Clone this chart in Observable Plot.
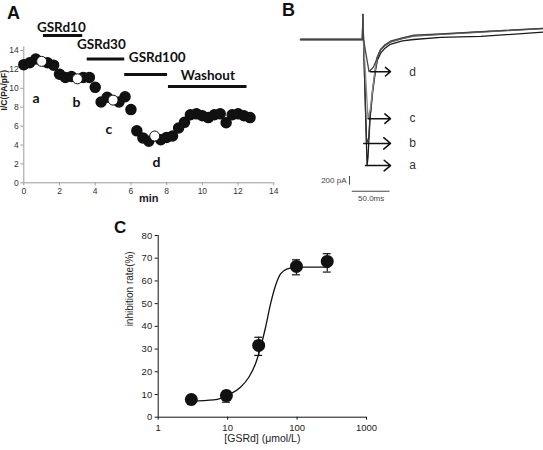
<!DOCTYPE html>
<html><head><meta charset="utf-8">
<script src="https://cdn.jsdelivr.net/npm/d3@7"></script>
<script src="https://cdn.jsdelivr.net/npm/@observablehq/plot@0.6"></script>
<style>
body{margin:0;background:#fff;}
#fig{position:relative;width:543px;height:450px;overflow:hidden;font-family:"Liberation Sans",Arial,sans-serif;background:#fff;}
#fig > .pane{position:absolute;}
.plabel{position:absolute;font-weight:bold;font-size:17px;font-family:"Liberation Sans",Arial,sans-serif;color:#111;line-height:1;}
</style></head><body><div id="fig"></div>
<script>
// ---------- Panel A: I/C over time ----------
const timeA = [0,0.33,0.67,1.0,1.33,1.67,2.0,2.33,2.67,3.0,3.33,3.67,4.0,4.33,4.67,5.0,5.33,5.67,6.0,6.33,6.67,7.0,7.33,7.67,8.0,8.33,8.67,9.0,9.33,9.67,10.0,10.33,10.67,11.0,11.33,11.67,12.0,12.33,12.67];
const currentA = [12.5,12.7,13.1,12.85,12.7,12.45,11.5,11.15,11.25,11.0,11.15,11.15,10.1,8.55,9.05,8.75,8.55,9.1,7.75,5.5,4.75,4.4,4.95,4.55,4.8,4.95,5.8,6.4,7.2,7.3,7.1,6.9,7.2,7.3,6.35,7.2,7.3,7.1,6.9];
const sampleIdx = [3, 9, 15, 22];            // open circles (traces a-d)
const xTicksA = [0,2,4,6,8,10,12,14];
const yTicksA = [0,2,4,6,8,10,12,14];
const drugNames = ["GSRd10","GSRd30","GSRd100","Washout"];
const drugStart = [1.1, 3.55, 5.65, 8.1];
const drugEnd   = [3.3, 5.65, 8.05, 12.5];
const sampleLetters = ["a","b","c","d"];

// ---------- Panel B: current traces (ms, pA) ----------
const traceNames = ["a","b","c","d"];
const traceT = [
  [0,82,82.7,83.5,88.2,89.5,92,95.5,99.5,102,106,112,119,135,150,186,239,322],
  [0,82,82.7,83.5,87.5,90.5,92,95.5,99.5,102,106,112,119,135,150,186,239,322],
  [0,82,82.7,83.5,89.5,92.5,95.5,99.5,102,106,112,119,135,150,186,239,322],
  [0,82,82.7,83.5,90.8,96.5,99.5,102,106,112,119,135,150,186,239,322]
];
const traceI = [
  [0,0,575,0,-2900,-2700,-1850,-1230,-700,-470,-320,-200,-110,-30,0,50,70,170],
  [0,0,575,0,-2390,-2250,-1790,-1170,-640,-410,-250,-140,-60,20,80,120,172,250],
  [0,0,575,0,-1820,-1600,-1150,-620,-400,-240,-130,-50,30,90,125,175,255],
  [0,0,575,0,-740,-640,-520,-390,-230,-120,-40,40,100,130,180,258]
];
const tracePeak = [-2900, -2390, -1820, -740];
const scaleBarPA = 200;
const scaleBarMS = 50;

// ---------- Panel C: concentration-response ----------
const concC = [3, 9.6, 28, 98, 272];
const inhibC = [7.8, 9.5, 31.6, 66.4, 68.6];
const errLowC = [5.6, 6.6, 27.2, 62.7, 63.9];
const errHighC = [9.6, 11.5, 35.2, 69.3, 72.0];
const fitConc = [3, 6.3, 11, 15.3, 20.2, 25.2, 29.8, 35.2, 41.5, 49, 57.8, 72.3, 100, 287];
const fitInhib = [7.1, 7.6, 10.3, 13.2, 17.6, 23.5, 30.8, 39.6, 49.9, 58.0, 63.1, 65.3, 66.1, 66.1];
const xTicksC = [1, 10, 100, 1000];
const yTicksC = [0,10,20,30,40,50,60,70,80];

const fig = document.getElementById("fig");
function place(el, left, top) {
  const d = document.createElement("div");
  d.className = "pane"; d.style.left = left + "px"; d.style.top = top + "px";
  d.appendChild(el); fig.appendChild(d);
}
function label(txt, left, top, size) {
  const d = document.createElement("div");
  d.className = "plabel"; d.textContent = txt;
  d.style.left = left + "px"; d.style.top = top + "px"; d.style.fontSize = size + "px";
  fig.appendChild(d);
}
const baseStyle = {fontFamily: "'Liberation Sans', Arial, sans-serif", background: "transparent", overflow: "visible", color: "#222"};

// ----- Panel A plot -----
const rowsA = timeA.map((t, i) => ({t, v: currentA[i], open: sampleIdx.includes(i)}));
const barLevel = [15.6, 13.1, 11.45, 10.2];
const barTextPos = [[2.1, 16.4], [4.34, 14.6], [7.47, 13.2], [10.31, 11.3]];
const drugRows = drugNames.map((n, i) => ({name: n, start: drugStart[i], end: drugEnd[i], level: barLevel[i], tx: barTextPos[i][0], ty: barTextPos[i][1]}));
const letterPos = [[0.69, 8.9], [2.95, 8.53], [4.76, 5.64], [7.43, 2.18]];
const letterRows = sampleLetters.map((l, i) => ({l, x: letterPos[i][0], y: letterPos[i][1]}));
const axisGray = "#9c9c9c";
const plotA = Plot.plot({
  width: 280, height: 210, marginLeft: 23.3, marginRight: 6.7, marginTop: 50, marginBottom: 27.7,
  style: baseStyle,
  x: {domain: [0, 14]}, y: {domain: [0, 14]},
  marks: [
    Plot.ruleY([0], {stroke: axisGray}),
    Plot.ruleX([0], {y1: 0, y2: 14.4, stroke: axisGray}),
    Plot.axisX({ticks: xTicksA, tickSize: 3, stroke: axisGray, fill: "#333", fontSize: 8.5, tickPadding: 2, label: null}),
    Plot.axisY({ticks: yTicksA, tickSize: 3, stroke: axisGray, fill: "#333", fontSize: 8.5, tickPadding: 2, label: null}),
    Plot.dot(rowsA.filter(d => !d.open), {x: "t", y: "v", r: 5, fill: "#111", stroke: "#111"}),
    Plot.dot(rowsA.filter(d => d.open), {x: "t", y: "v", r: 5, fill: "#fff", stroke: "#111", strokeWidth: 1}),
    Plot.ruleY(drugRows, {y: "level", x1: "start", x2: "end", stroke: "#111", strokeWidth: 3}),
    Plot.text(drugRows, {x: "tx", y: "ty", text: "name", fontFamily: "Lato", fontWeight: "bold", fontSize: 13.5, fill: "#111"}),
    Plot.text(letterRows, {x: "x", y: "y", text: "l", fontFamily: "Lato", fontWeight: "bold", fontSize: 14, fill: "#111"}),
    Plot.text(["I/C(PA/pF)"], {x: -1.07, y: 9.8, rotate: -90, fontWeight: "bold", fontSize: 8.5, fill: "#222"}),
    Plot.text(["min"], {frameAnchor: "bottom", dy: 19, fontWeight: "bold", fontSize: 11, fill: "#222"})
  ]
});
place(plotA, 0, 0);

// ----- Panel B plot -----
const traceColors = ["#1a1a1a", "#333", "#8a8a8a", "#444"];
const arrowStart = [86.2, 83.9, 89.8, 92.8];
const arrowEnd = 119.3;
const letterT = 148.5;
const arrowRows = traceNames.map((n, i) => ({n, x1: arrowStart[i], x2: arrowEnd, y: tracePeak[i]}));
const traceMarks = traceNames.map((n, k) =>
  Plot.line(traceT[k].map((t, j) => ({t, i: traceI[k][j]})), {x: "t", y: "i", stroke: traceColors[k], strokeWidth: 1.3})
);
const barX = 65, barY = -3150, hbarX = 68.6, hbarY = -3490;
const plotB = Plot.plot({
  width: 253, height: 210, marginLeft: 10, marginRight: 0, marginTop: 0, marginBottom: 0,
  style: baseStyle,
  x: {domain: [0, 322], axis: null}, y: {domain: [-3933, 897], axis: null},
  marks: [
    ...traceMarks,
    Plot.arrow(arrowRows, {x1: "x1", x2: "x2", y1: "y", y2: "y", stroke: "#111", strokeWidth: 1.5, headLength: 14, headAngle: 80}),
    Plot.text(arrowRows, {x: letterT, y: "y", text: "n", fontSize: 12, fill: "#333"}),
    Plot.ruleX([barX], {y1: barY, y2: barY - scaleBarPA, stroke: "#444", strokeWidth: 1}),
    Plot.ruleY([hbarY], {x1: hbarX, x2: hbarX + scaleBarMS, stroke: "#444", strokeWidth: 1}),
    Plot.text([scaleBarPA + " pA"], {x: barX - 4, y: barY - scaleBarPA / 2, textAnchor: "end", fontSize: 8, fill: "#444"}),
    Plot.text([scaleBarMS.toFixed(1) + "ms"], {x: hbarX + scaleBarMS / 2, y: hbarY - 175, fontSize: 8, fill: "#444"})
  ]
});
place(plotB, 290, 0);

// ----- Panel C plot -----
const rowsC = concC.map((c, i) => ({c, v: inhibC[i], lo: errLowC[i], hi: errHighC[i]}));
const fitRows = fitConc.map((c, i) => ({c, v: fitInhib[i]}));
const capW = 1.14;
const plotC = Plot.plot({
  width: 300, height: 230, marginLeft: 57.7, marginRight: 34, marginTop: 15, marginBottom: 33.3,
  style: baseStyle,
  x: {type: "log", domain: [1, 1000]}, y: {domain: [0, 80]},
  marks: [
    Plot.ruleX([1], {y1: 0, y2: 80, stroke: "#111"}),
    Plot.ruleY([0], {stroke: "#111"}),
    Plot.axisX({ticks: xTicksC, tickFormat: d => String(d), tickSize: 3, stroke: "#111", fill: "#222", fontSize: 9.5, tickPadding: 4, label: null}),
    Plot.axisY({ticks: yTicksC, tickSize: 3, stroke: "#111", fill: "#222", fontSize: 9.5, tickPadding: 3, label: null}),
    Plot.line(fitRows, {x: "c", y: "v", curve: "monotone-x", stroke: "#111", strokeWidth: 1.3}),
    Plot.ruleX(rowsC, {x: "c", y1: "lo", y2: "hi", stroke: "#111", strokeWidth: 1.2}),
    Plot.ruleY(rowsC, {y: "lo", x1: d => d.c / capW, x2: d => d.c * capW, stroke: "#111", strokeWidth: 1.2}),
    Plot.ruleY(rowsC, {y: "hi", x1: d => d.c / capW, x2: d => d.c * capW, stroke: "#111", strokeWidth: 1.2}),
    Plot.dot(rowsC, {x: "c", y: "v", r: 6.5, fill: "#111"}),
    Plot.text(["inhibition rate(%)"], {frameAnchor: "left", rotate: -90, dx: -28, fontSize: 10, fill: "#222"}),
    Plot.text(["[GSRd] (μmol/L)"], {frameAnchor: "bottom", dy: 25, fontSize: 10.5, fill: "#222"})
  ]
});
place(plotC, 100, 220);

label("A", 7, 4, 18);
label("B", 282, 1, 18);
label("C", 114, 219, 17);
</script></body></html>
